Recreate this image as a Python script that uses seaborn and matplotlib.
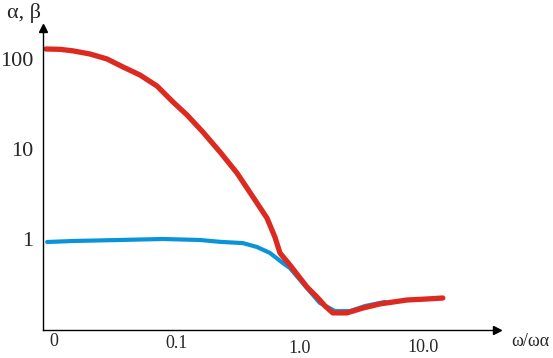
import numpy as np
import matplotlib
matplotlib.use('Agg')
import matplotlib.pyplot as plt
import matplotlib.transforms as mtransforms
import seaborn as sns

# red curve (alpha)
red_w = [0.0086, 0.0112, 0.0143, 0.0196, 0.027, 0.0364, 0.050, 0.0688, 0.0928,
         0.1206, 0.1627, 0.224, 0.3076, 0.415, 0.539, 0.626, 0.688, 0.829,
         1.14, 1.375, 1.60, 1.85, 2.41, 3.25, 4.47, 7.41, 10.4, 14.5]
red_v = [129, 128, 123, 113.6, 100, 81.5, 66.4, 50.1, 33.3,
         23.9, 15.4, 9.26, 5.41, 2.93, 1.71, 1.05, 0.699, 0.514,
         0.293, 0.227, 0.180, 0.151, 0.151, 0.171, 0.19, 0.21, 0.215, 0.221]

# blue curve (beta)
blue_w = [0.0088, 0.0143, 0.0344, 0.077, 0.154, 0.224, 0.344, 0.447, 0.57,
          0.727, 0.829, 1.14, 1.45, 1.93, 2.55, 3.38, 4.91]
blue_v = [0.926, 0.95, 0.975, 1.0, 0.975, 0.93, 0.90, 0.815, 0.70,
          0.54, 0.476, 0.285, 0.195, 0.158, 0.158, 0.18, 0.20]

x_ticks = [0.01, 0.1, 1, 10]
x_labels = ['0', '0.1', '1.0', '10.0']
x_label_drop = [0, 2, 7, 6]   # px, labels sit lower toward the right
y_ticks = [1, 10, 100]
y_labels = ['1', '10', '100']

sns.set_style('white')
plt.rcParams['font.family'] = ['Liberation Serif', 'DejaVu Serif']

W, H = 553, 358
fig = plt.figure(figsize=(W / 100, H / 100), dpi=100)
ax = fig.add_axes([43 / W, (H - 330) / H, (497 - 43) / W, (330 - 28) / H])

sns.lineplot(x=blue_w, y=blue_v, ax=ax, color='#0a93d8', linewidth=3.0)
sns.lineplot(x=red_w, y=red_v, ax=ax, color='#dc2a20', linewidth=3.8)

ax.set_xscale('log')
ax.set_yscale('log')
ax.set_xlim(10 ** -2.089, 10 ** 1.602)
ax.set_ylim(10 ** -1.011, 10 ** 2.344)
ax.minorticks_off()

for s in ['top', 'right']:
    ax.spines[s].set_visible(False)
for s in ['left', 'bottom']:
    ax.spines[s].set_color('black')
    ax.spines[s].set_linewidth(1.0)

# arrow heads
ax.plot(1, 0, '>', color='black', markersize=6, transform=ax.transAxes, clip_on=False)
ax.plot(0, 1, '^', color='black', markersize=6, transform=ax.transAxes, clip_on=False)

ax.set_xticks(x_ticks)
ax.set_xticklabels(x_labels, fontsize=13)
ax.set_yticks(y_ticks)
ax.set_yticklabels(y_labels, fontsize=16)
ax.tick_params(axis='x', length=0, pad=2)
ax.tick_params(axis='y', length=0, pad=7)

for lab, d in zip(ax.get_xticklabels(), x_label_drop):
    lab.set_transform(lab.get_transform() +
                      mtransforms.ScaledTranslation(0, -d / 100, fig.dpi_scale_trans))

fig.text(24 / W, 1 - 13 / H, 'α, β', fontsize=16, ha='center', va='center')
fig.text(530 / W, 1 - 341 / H, 'ω/ωα', fontsize=13, ha='center', va='center')

ax.set_xlabel('')
ax.set_ylabel('')
fig.savefig('out.png', dpi=100)
